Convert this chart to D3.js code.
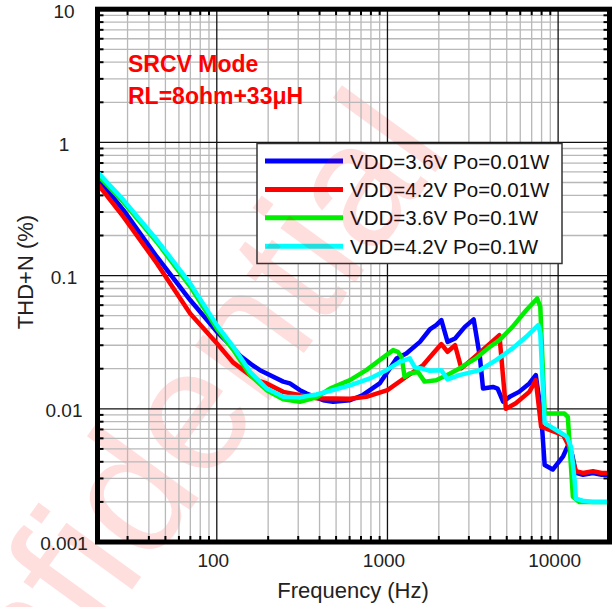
<!DOCTYPE html>
<html>
<head>
<meta charset="utf-8">
<script src="https://cdn.jsdelivr.net/npm/d3@7/dist/d3.min.js"></script>
<style>
  html, body { margin: 0; padding: 0; background: #fff; }
  svg { display: block; font-family: "Liberation Sans", Arial, sans-serif; }
</style>
</head>
<body>
<svg id="chart" width="613" height="607"></svg>
<script>
// Axis ranges and labels
const xDomain = [20, 20000];
const yDomain = [0.001, 10];
const xTickValues = [100, 1000, 10000];
const yTickValues = [0.001, 0.01, 0.1, 1, 10];

// THD+N (%) vs frequency (Hz), one pair of arrays per curve
const blueFreq = [20, 28.4, 44.6, 69.8, 100, 125, 137, 160, 179, 196, 245, 268, 307, 336, 420, 480, 603, 719, 900, 1130, 1290, 1550, 1770, 1930, 2070, 2250, 2490, 2840, 3200, 3480, 3630, 4150, 4420, 4760, 5200, 5900, 6780, 7400, 7950, 8340, 9300, 10700, 11500, 12100, 12700, 14000, 16000, 18000, 20000];
const blueThd  = [0.54, 0.31, 0.138, 0.0655, 0.038, 0.0285, 0.0250, 0.0215, 0.0195, 0.0184, 0.0160, 0.0155, 0.0138, 0.0130, 0.0116, 0.0113, 0.0116, 0.0127, 0.0155, 0.0239, 0.0260, 0.0318, 0.0394, 0.0425, 0.0463, 0.0318, 0.0337, 0.0412, 0.0469, 0.0245, 0.0142, 0.0146, 0.0142, 0.0113, 0.0123, 0.0134, 0.0155, 0.0179, 0.0092, 0.00378, 0.0035, 0.0044, 0.0054, 0.0045, 0.0033, 0.0032, 0.0033, 0.0032, 0.0032];

const redFreq = [20, 28.4, 44.6, 69.8, 100, 125, 171, 196, 245, 384, 603, 752, 1000, 1290, 1620, 1850, 2070, 2250, 2490, 2710, 3170, 3800, 4530, 4940, 5650, 6780, 7400, 7950, 10700, 11600, 12700, 14000, 16000, 18000, 20000];
const redThd  = [0.49, 0.276, 0.1235, 0.052, 0.031, 0.0222, 0.0164, 0.0155, 0.0134, 0.0120, 0.0119, 0.0123, 0.0138, 0.0174, 0.0213, 0.0260, 0.0306, 0.0268, 0.0300, 0.0201, 0.0239, 0.0292, 0.0357, 0.0100, 0.0110, 0.0134, 0.0164, 0.00733, 0.00635, 0.0052, 0.0034, 0.0033, 0.0034, 0.0033, 0.0033];

const greenFreq = [20, 28.4, 44.6, 69.8, 100, 125, 157, 196, 245, 307, 384, 460, 603, 752, 900, 1080, 1150, 1210, 1260, 1350, 1510, 1650, 1930, 2330, 2640, 3300, 3980, 4530, 5400, 6500, 7540, 7860, 8340, 10900, 11400, 12200, 13300, 16000, 20000];
const greenThd  = [0.57, 0.355, 0.178, 0.083, 0.040, 0.0276, 0.0179, 0.0138, 0.0118, 0.0113, 0.0122, 0.0142, 0.0164, 0.0195, 0.0232, 0.0276, 0.0268, 0.0245, 0.0174, 0.0184, 0.0189, 0.0160, 0.0164, 0.0184, 0.0201, 0.0239, 0.0292, 0.0328, 0.0412, 0.0549, 0.0673, 0.0584, 0.0092, 0.0092, 0.0087, 0.00219, 0.0020, 0.0020, 0.0020];

const cyanFreq = [20, 28.4, 44.6, 69.8, 100, 125, 157, 196, 245, 307, 384, 480, 603, 790, 985, 1180, 1350, 1450, 1580, 1770, 2070, 2250, 2640, 3480, 4330, 5400, 6500, 7650, 7860, 8340, 9800, 11200, 11900, 12500, 12700, 13900, 16000, 20000];
const cyanThd  = [0.60, 0.369, 0.185, 0.0874, 0.0425, 0.0292, 0.0189, 0.0142, 0.0123, 0.0122, 0.0128, 0.0138, 0.0150, 0.0169, 0.0195, 0.0225, 0.0239, 0.0204, 0.0201, 0.0193, 0.0195, 0.0166, 0.0179, 0.0195, 0.0232, 0.0284, 0.0347, 0.0425, 0.0370, 0.0078, 0.0069, 0.0062, 0.0052, 0.0029, 0.00212, 0.00204, 0.0020, 0.0020];

const seriesNames = ["VDD=3.6V Po=0.01W", "VDD=4.2V Po=0.01W", "VDD=3.6V Po=0.1W", "VDD=4.2V Po=0.1W"];
const seriesColors = ["#0000ff", "#ff0000", "#00ee00", "#00ffff"];
const seriesFreqs = [blueFreq, redFreq, greenFreq, cyanFreq];
const seriesThds = [blueThd, redThd, greenThd, cyanThd];

const svg = d3.select("#chart");
const plotLeft = 97.5, plotRight = 609.5, plotTop = 9.2, plotBottom = 542;

const x = d3.scaleLog().domain(xDomain).range([plotLeft, plotRight]);
const y = d3.scaleLog().domain(yDomain).range([plotBottom, plotTop]);

// minor grid values (2..9 within each decade)
const xMinor = [], yMinor = [];
for (let dec = 10; dec <= 10000; dec *= 10)
  for (let m = 2; m <= 9; m++) { const v = m * dec; if (v > xDomain[0] && v < xDomain[1]) xMinor.push(v); }
for (let e = -3; e < 1; e++)
  for (let m = 2; m <= 9; m++) yMinor.push(+(m * Math.pow(10, e)).toPrecision(3));

// watermark, behind everything else
const watermarkTransform = "translate(-92,898) rotate(-54)";
svg.append("text").attr("transform", watermarkTransform)
  .attr("font-size", 175).attr("fill", "#ff0000").attr("fill-opacity", 0.13)
  .text("Confidential");

const grid = svg.append("g");
grid.selectAll(".xminor").data(xMinor).join("line")
  .attr("x1", d => x(d)).attr("x2", d => x(d)).attr("y1", plotTop).attr("y2", plotBottom)
  .attr("stroke", "#b8b8b8").attr("stroke-width", 1.3);
grid.selectAll(".yminor").data(yMinor).join("line")
  .attr("y1", d => y(d)).attr("y2", d => y(d)).attr("x1", plotLeft).attr("x2", plotRight)
  .attr("stroke", "#b8b8b8").attr("stroke-width", 1.3);
grid.selectAll(".xmajor").data(xTickValues).join("line")
  .attr("x1", d => x(d)).attr("x2", d => x(d)).attr("y1", plotTop).attr("y2", plotBottom)
  .attr("stroke", "#111").attr("stroke-width", 1.3);
grid.selectAll(".ymajor").data(yTickValues).join("line")
  .attr("y1", d => y(d)).attr("y2", d => y(d)).attr("x1", plotLeft).attr("x2", plotRight)
  .attr("stroke", "#111").attr("stroke-width", 1.3);

// inward ticks on all four sides
const ticks = svg.append("g").attr("stroke", "#000").attr("stroke-width", 2);
ticks.selectAll(".tb").data(xMinor).join("line")
  .attr("x1", d => x(d)).attr("x2", d => x(d)).attr("y1", plotBottom).attr("y2", plotBottom - 6);
ticks.selectAll(".tt").data(xMinor).join("line")
  .attr("x1", d => x(d)).attr("x2", d => x(d)).attr("y1", plotTop).attr("y2", plotTop + 6);
ticks.selectAll(".tl").data(yMinor).join("line")
  .attr("y1", d => y(d)).attr("y2", d => y(d)).attr("x1", plotLeft).attr("x2", plotLeft + 6);
ticks.selectAll(".tr").data(yMinor).join("line")
  .attr("y1", d => y(d)).attr("y2", d => y(d)).attr("x1", plotRight).attr("x2", plotRight - 6);

// curves
svg.append("clipPath").attr("id", "plotclip").append("rect")
  .attr("x", plotLeft).attr("y", plotTop).attr("width", plotRight - plotLeft).attr("height", plotBottom - plotTop);
const line = d3.line().x(d => x(d[0])).y(d => y(d[1]));
const curves = svg.append("g").attr("clip-path", "url(#plotclip)");
seriesNames.forEach((name, i) => {
  const pts = seriesFreqs[i].map((f, j) => [f, seriesThds[i][j]]);
  curves.append("path").datum(pts)
    .attr("d", line).attr("fill", "none")
    .attr("stroke", seriesColors[i]).attr("stroke-width", 4.5)
    .attr("stroke-linejoin", "round").attr("stroke-linecap", "round");
});

// frame
svg.append("rect").attr("x", plotLeft).attr("y", plotTop).attr("width", plotRight - plotLeft).attr("height", plotBottom - plotTop)
  .attr("fill", "none").attr("stroke", "#000").attr("stroke-width", 5);

// axes labels
const xAxis = d3.axisBottom(x).tickValues(xTickValues).tickFormat(d3.format("d")).tickSize(0).tickPadding(11.5);
const gx = svg.append("g").attr("transform", `translate(-4,${plotBottom})`).call(xAxis);
gx.select(".domain").remove();
gx.selectAll("text").attr("font-size", 19).attr("fill", "#222").attr("font-family", "Liberation Sans, Arial, sans-serif");

const yAxis = d3.axisLeft(y).tickValues(yTickValues).tickFormat(d => String(d)).tickSize(0);
const gy = svg.append("g").attr("transform", `translate(${plotLeft},0)`).call(yAxis);
gy.select(".domain").remove();
gy.selectAll("text").attr("font-size", 19).attr("fill", "#222").attr("text-anchor", "middle")
  .attr("x", 64 - plotLeft).attr("dy", "0.42em").attr("font-family", "Liberation Sans, Arial, sans-serif");

svg.append("text").attr("x", 353).attr("y", 598).attr("text-anchor", "middle")
  .attr("font-size", 22).attr("fill", "#222").text("Frequency (Hz)");
svg.append("text").attr("transform", "translate(33,272) rotate(-90)").attr("text-anchor", "middle")
  .attr("font-size", 22).attr("fill", "#222").text("THD+N (%)");

// condition notes
svg.append("text").attr("x", 128).attr("y", 72).attr("font-size", 23).attr("font-weight", "bold")
  .attr("fill", "#ff0000").text("SRCV Mode");
svg.append("text").attr("x", 128).attr("y", 104).attr("font-size", 23).attr("font-weight", "bold")
  .attr("fill", "#ff0000").text("RL=8ohm+33μH");

// legend
const lg = svg.append("g");
lg.append("rect").attr("x", 257).attr("y", 143.5).attr("width", 305).attr("height", 120)
  .attr("fill", "#fff").attr("stroke", "#333").attr("stroke-width", 1.5);
seriesNames.forEach((name, i) => {
  const ly = 161 + i * 28.4;
  lg.append("line").attr("x1", 265).attr("x2", 343).attr("y1", ly).attr("y2", ly)
    .attr("stroke", seriesColors[i]).attr("stroke-width", 5);
  lg.append("text").attr("x", 350).attr("y", ly + 7.5).attr("font-size", 20.5).attr("fill", "#111").text(name);
});

// watermark tint also shows through the legend box
svg.append("clipPath").attr("id", "legendclip").append("rect")
  .attr("x", 257).attr("y", 143.5).attr("width", 305).attr("height", 120);
svg.append("g").attr("clip-path", "url(#legendclip)")
  .append("text").attr("transform", watermarkTransform)
  .attr("font-size", 175).attr("fill", "#ff0000").attr("fill-opacity", 0.13)
  .text("Confidential");
</script>
</body>
</html>
